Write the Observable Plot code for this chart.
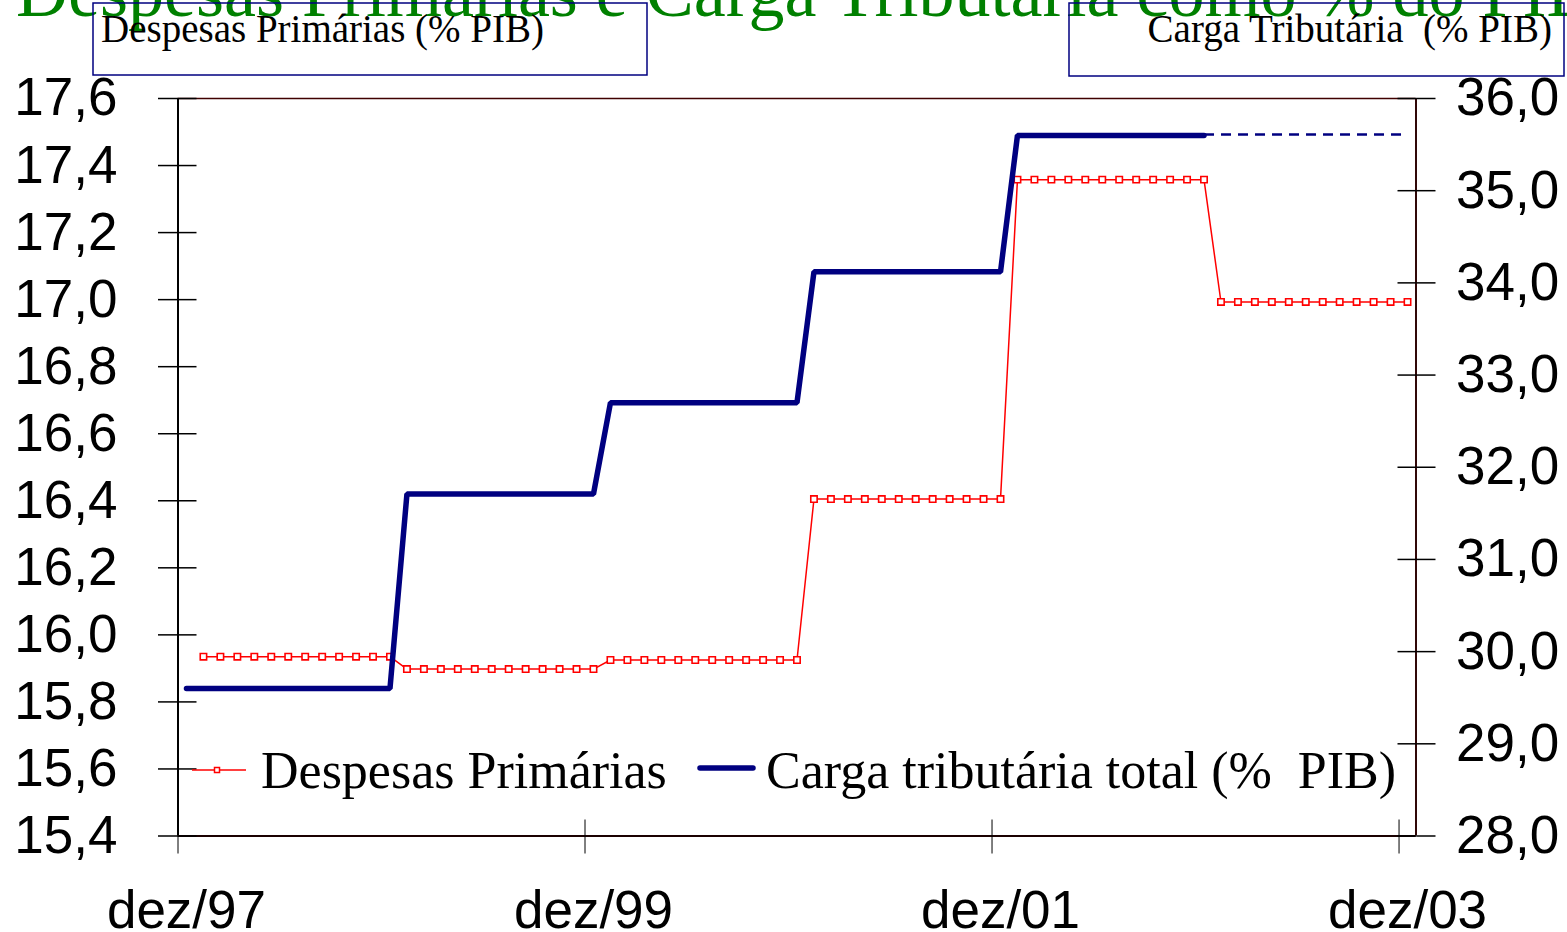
<!DOCTYPE html>
<html><head><meta charset="utf-8">
<script src="https://cdn.jsdelivr.net/npm/d3@7"></script>
<script src="https://cdn.jsdelivr.net/npm/@observablehq/plot@0.6"></script>
<style>
html,body{margin:0;padding:0;background:#fff;overflow:hidden}
#wrap{position:relative;width:1567px;height:932px;background:#fff}
#chart{position:absolute;left:0;top:0}
#overlay{position:absolute;left:0;top:0;pointer-events:none}
</style></head><body>
<div id="wrap"><div id="chart"></div><svg id="overlay" width="1567" height="932"></svg></div>
<script>
// ---- categories (months, dez/97 .. dez/03) ----
const months = [
 "dez/97",
 "jan/98","fev/98","mar/98","abr/98","mai/98","jun/98","jul/98","ago/98","set/98","out/98","nov/98","dez/98",
 "jan/99","fev/99","mar/99","abr/99","mai/99","jun/99","jul/99","ago/99","set/99","out/99","nov/99","dez/99",
 "jan/00","fev/00","mar/00","abr/00","mai/00","jun/00","jul/00","ago/00","set/00","out/00","nov/00","dez/00",
 "jan/01","fev/01","mar/01","abr/01","mai/01","jun/01","jul/01","ago/01","set/01","out/01","nov/01","dez/01",
 "jan/02","fev/02","mar/02","abr/02","mai/02","jun/02","jul/02","ago/02","set/02","out/02","nov/02","dez/02",
 "jan/03","fev/03","mar/03","abr/03","mai/03","jun/03","jul/03","ago/03","set/03","out/03","nov/03","dez/03"
];
// ---- Despesas Primárias (% PIB), monthly from jan/98 ----
const despesasStart = "jan/98";
const despesas = [
 15.935,15.935,15.935,15.935,15.935,15.935,15.935,15.935,15.935,15.935,15.935,15.935,
 15.898,15.898,15.898,15.898,15.898,15.898,15.898,15.898,15.898,15.898,15.898,15.898,
 15.925,15.925,15.925,15.925,15.925,15.925,15.925,15.925,15.925,15.925,15.925,15.925,
 16.405,16.405,16.405,16.405,16.405,16.405,16.405,16.405,16.405,16.405,16.405,16.405,
 17.358,17.358,17.358,17.358,17.358,17.358,17.358,17.358,17.358,17.358,17.358,17.358,
 16.993,16.993,16.993,16.993,16.993,16.993,16.993,16.993,16.993,16.993,16.993,16.993
];
// ---- Carga tributária total (% PIB), monthly from dez/97 ----
const cargaStart = "dez/97";
const carga = [
 29.60,29.60,29.60,29.60,29.60,29.60,29.60,29.60,29.60,29.60,29.60,29.60,29.60,
 31.71,31.71,31.71,31.71,31.71,31.71,31.71,31.71,31.71,31.71,31.71,31.71,
 32.70,32.70,32.70,32.70,32.70,32.70,32.70,32.70,32.70,32.70,32.70,32.70,
 34.12,34.12,34.12,34.12,34.12,34.12,34.12,34.12,34.12,34.12,34.12,34.12,
 35.60,35.60,35.60,35.60,35.60,35.60,35.60,35.60,35.60,35.60,35.60,35.60
];
// ---- Carga tributária (dashed continuation), from dez/02 ----
const cargaProjStart = "dez/02";
const cargaProj = [35.61,35.61,35.61,35.61,35.61,35.61,35.61,35.61,35.61,35.61,35.61,35.61,35.61];

const xTickLabels = ["dez/97","dez/99","dez/01","dez/03"];
const yLeftTicks = [15.4,15.6,15.8,16.0,16.2,16.4,16.6,16.8,17.0,17.2,17.4,17.6];
const yRightTicks = [28,29,30,31,32,33,34,35,36];
const leftDomain = [15.4, 17.6];
const rightDomain = [28, 36];
const titleText = "Despesas Primárias e Carga Tributária como % do PIB";
const leftBoxText = "Despesas Primárias (% PIB)";
const rightBoxText = "Carga Tributária  (% PIB)";
const seriesNames = ["Despesas Primárias", "Carga tributária total (%  PIB)"];

// ---- build ----
const idx = m => months.indexOf(m);
const toLeft = d3.scaleLinear().domain(rightDomain).range(leftDomain);
const fmt = d => d.toFixed(1).replace(".", ",");
const despData = despesas.map((v, k) => ({x: idx(despesasStart) + k, y: v}));
const cargaData = carga.map((v, k) => ({x: idx(cargaStart) + k, y: toLeft(v)}));
const projData = cargaProj.map((v, k) => ({x: idx(cargaProjStart) + k, y: toLeft(v)}));
const xDomain = [-0.5, months.length - 0.5];
const tickIdx = xTickLabels.map(idx);
const boundaries = tickIdx.map(i => i - 0.5);
const rightTicksLeft = yRightTicks.map(toLeft);
const empty = () => "";
const FS = 53;

const plot = Plot.plot({
  width: 1567, height: 932,
  marginTop: 98, marginBottom: 96.5, marginLeft: 177.5, marginRight: 151.5,
  style: {fontFamily: "'Liberation Sans', Arial, sans-serif", fontSize: FS + "px", background: "transparent", color: "#000", overflow: "visible"},
  x: {type: "linear", domain: xDomain, label: null},
  y: {domain: leftDomain, label: null},
  marks: [
    Plot.ruleY([leftDomain[1]], {stroke: "#400000", strokeWidth: 1.5}),
    Plot.ruleX([xDomain[1]], {stroke: "#300808", strokeWidth: 2}),
    Plot.ruleX([xDomain[0]], {stroke: "#000", strokeWidth: 2}),
    Plot.ruleY([leftDomain[0]], {stroke: "#1a0000", strokeWidth: 2}),
    Plot.axisX(boundaries, {anchor: "bottom", tickSize: 18, tickFormat: empty, label: null}),
    Plot.axisX(boundaries, {anchor: "bottom", tickSize: -16, tickFormat: empty, label: null}),
    Plot.axisX(tickIdx, {anchor: "bottom", tickSize: 0, tickPadding: 54, tickFormat: i => months[i], fontSize: FS, label: null}),
    Plot.axisY(yLeftTicks, {anchor: "left", tickSize: 19.5, tickPadding: 41, tickFormat: fmt, fontSize: FS, strokeWidth: 1.5, label: null}),
    Plot.axisY(yLeftTicks, {anchor: "left", tickSize: -19, tickFormat: empty, strokeWidth: 1.5, label: null}),
    Plot.axisY(rightTicksLeft, {anchor: "right", tickSize: 19, tickPadding: 21, tickFormat: d => fmt(toLeft.invert(d)), fontSize: FS, strokeWidth: 1.5, label: null}),
    Plot.axisY(rightTicksLeft, {anchor: "right", tickSize: -19, tickFormat: empty, strokeWidth: 1.5, label: null}),
    Plot.line(despData, {x: "x", y: "y", stroke: "#ff0000", strokeWidth: 1.5}),
    Plot.dot(despData, {x: "x", y: "y", symbol: "square", r: 3.6, stroke: "#ff0000", fill: "#fff", strokeWidth: 1.6}),
    Plot.line(projData, {x: "x", y: "y", stroke: "#000080", strokeWidth: 2.5, strokeDasharray: "10,7", strokeLinecap: "butt"}),
    Plot.line(cargaData, {x: "x", y: "y", stroke: "#000080", strokeWidth: 5.5, strokeLinejoin: "miter", strokeLinecap: "round"})
  ]
});
document.getElementById("chart").appendChild(plot);

// ---- overlay: title, boxes, legend ----
const ov = d3.select("#overlay");
const serif = "'Liberation Serif', 'Times New Roman', serif";
ov.append("text").attr("x", 16).attr("y", 16).attr("fill", "#008000")
  .attr("font-family", serif).attr("font-size", 72).text(titleText);
ov.append("rect").attr("x", 93).attr("y", 3).attr("width", 554).attr("height", 72)
  .attr("fill", "none").attr("stroke", "#000080").attr("stroke-width", 1.5);
ov.append("text").attr("x", 101).attr("y", 42).attr("font-family", serif).attr("font-size", 39)
  .attr("fill", "#000").text(leftBoxText);
ov.append("rect").attr("x", 1069).attr("y", 3).attr("width", 495).attr("height", 73)
  .attr("fill", "none").attr("stroke", "#000080").attr("stroke-width", 1.5);
ov.append("text").attr("x", 1552).attr("y", 42).attr("text-anchor", "end").attr("font-family", serif)
  .attr("font-size", 39).attr("fill", "#000").style("white-space", "pre").text(rightBoxText);
// legend
ov.append("line").attr("x1", 192).attr("x2", 246).attr("y1", 770).attr("y2", 770)
  .attr("stroke", "#ff0000").attr("stroke-width", 1.5);
ov.append("rect").attr("x", 214.5).attr("y", 767.5).attr("width", 5).attr("height", 5)
  .attr("fill", "#fff").attr("stroke", "#ff0000").attr("stroke-width", 1.5);
ov.append("text").attr("x", 261).attr("y", 788).attr("font-family", serif).attr("font-size", 52)
  .attr("fill", "#000").text(seriesNames[0]);
ov.append("line").attr("x1", 700).attr("x2", 753).attr("y1", 768).attr("y2", 768)
  .attr("stroke", "#000080").attr("stroke-width", 5.5).attr("stroke-linecap", "round");
ov.append("text").attr("x", 766).attr("y", 788).attr("font-family", serif).attr("font-size", 52)
  .attr("fill", "#000").style("white-space", "pre").text(seriesNames[1]);
</script>
</body></html>
